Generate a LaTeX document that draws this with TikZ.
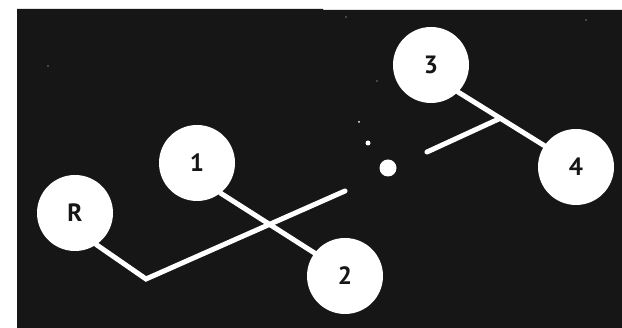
\documentclass[tikz,border=0pt]{standalone}
\usepackage{fontspec}
\setmainfont{PT Sans}
\usetikzlibrary{calc}
\definecolor{bg}{HTML}{161616}
\definecolor{speck}{HTML}{777777}
\tikzset{
  ball/.style={circle,fill=white,draw=none,minimum size=76pt,inner sep=0pt,
    text=bg,font=\fontsize{25}{25}\selectfont\bfseries},
  bond/.style={draw=white,line width=5pt,line cap=round,line join=miter},
}
\begin{document}
\begin{tikzpicture}[x=1pt,y=-1pt]
\useasboundingbox (0,0) rectangle (622,328);
\fill[white] (0,0) rectangle (622,328);
\fill[bg] (17,9) -- (323,9) -- (323,10) -- (622,10) -- (622,328) -- (17,328) -- cycle;
% specks
\fill[speck] (346,17) circle (0.8pt);
\fill[speck] (586,20) circle (0.8pt);
\fill[speck] (48,66) circle (0.9pt);
\fill[speck] (377,81) circle (0.8pt);
% nodes
\node[ball] (nR) at (75,213) {R};
\node[ball] (n1) at (197,163) {1};
\node[ball] (n2) at (345,276) {2};
\node[ball] (n3) at (431,65) {3};
\node[ball] (n4) at (576,167) {4};
% coordinates
\coordinate (c) at (146,279);
\coordinate (e1) at (345,191);
\coordinate (s2) at (427,152);
\coordinate (j) at ($(n3.-45)!0.49!(n4.146)$);
% connectors
\draw[bond] (nR.-56) -- (c) -- (e1);
\draw[bond] (n1.-52) -- (n2.143);
\draw[bond] (n3.-45) -- (n4.146);
\draw[bond] (s2) -- (j);
% dots in the gap
\fill[white] (388,168) circle (8.5pt);
\fill[white] (368,143) circle (2.5pt);
\fill[white] (359,122) circle (1pt);
\end{tikzpicture}
\end{document}
